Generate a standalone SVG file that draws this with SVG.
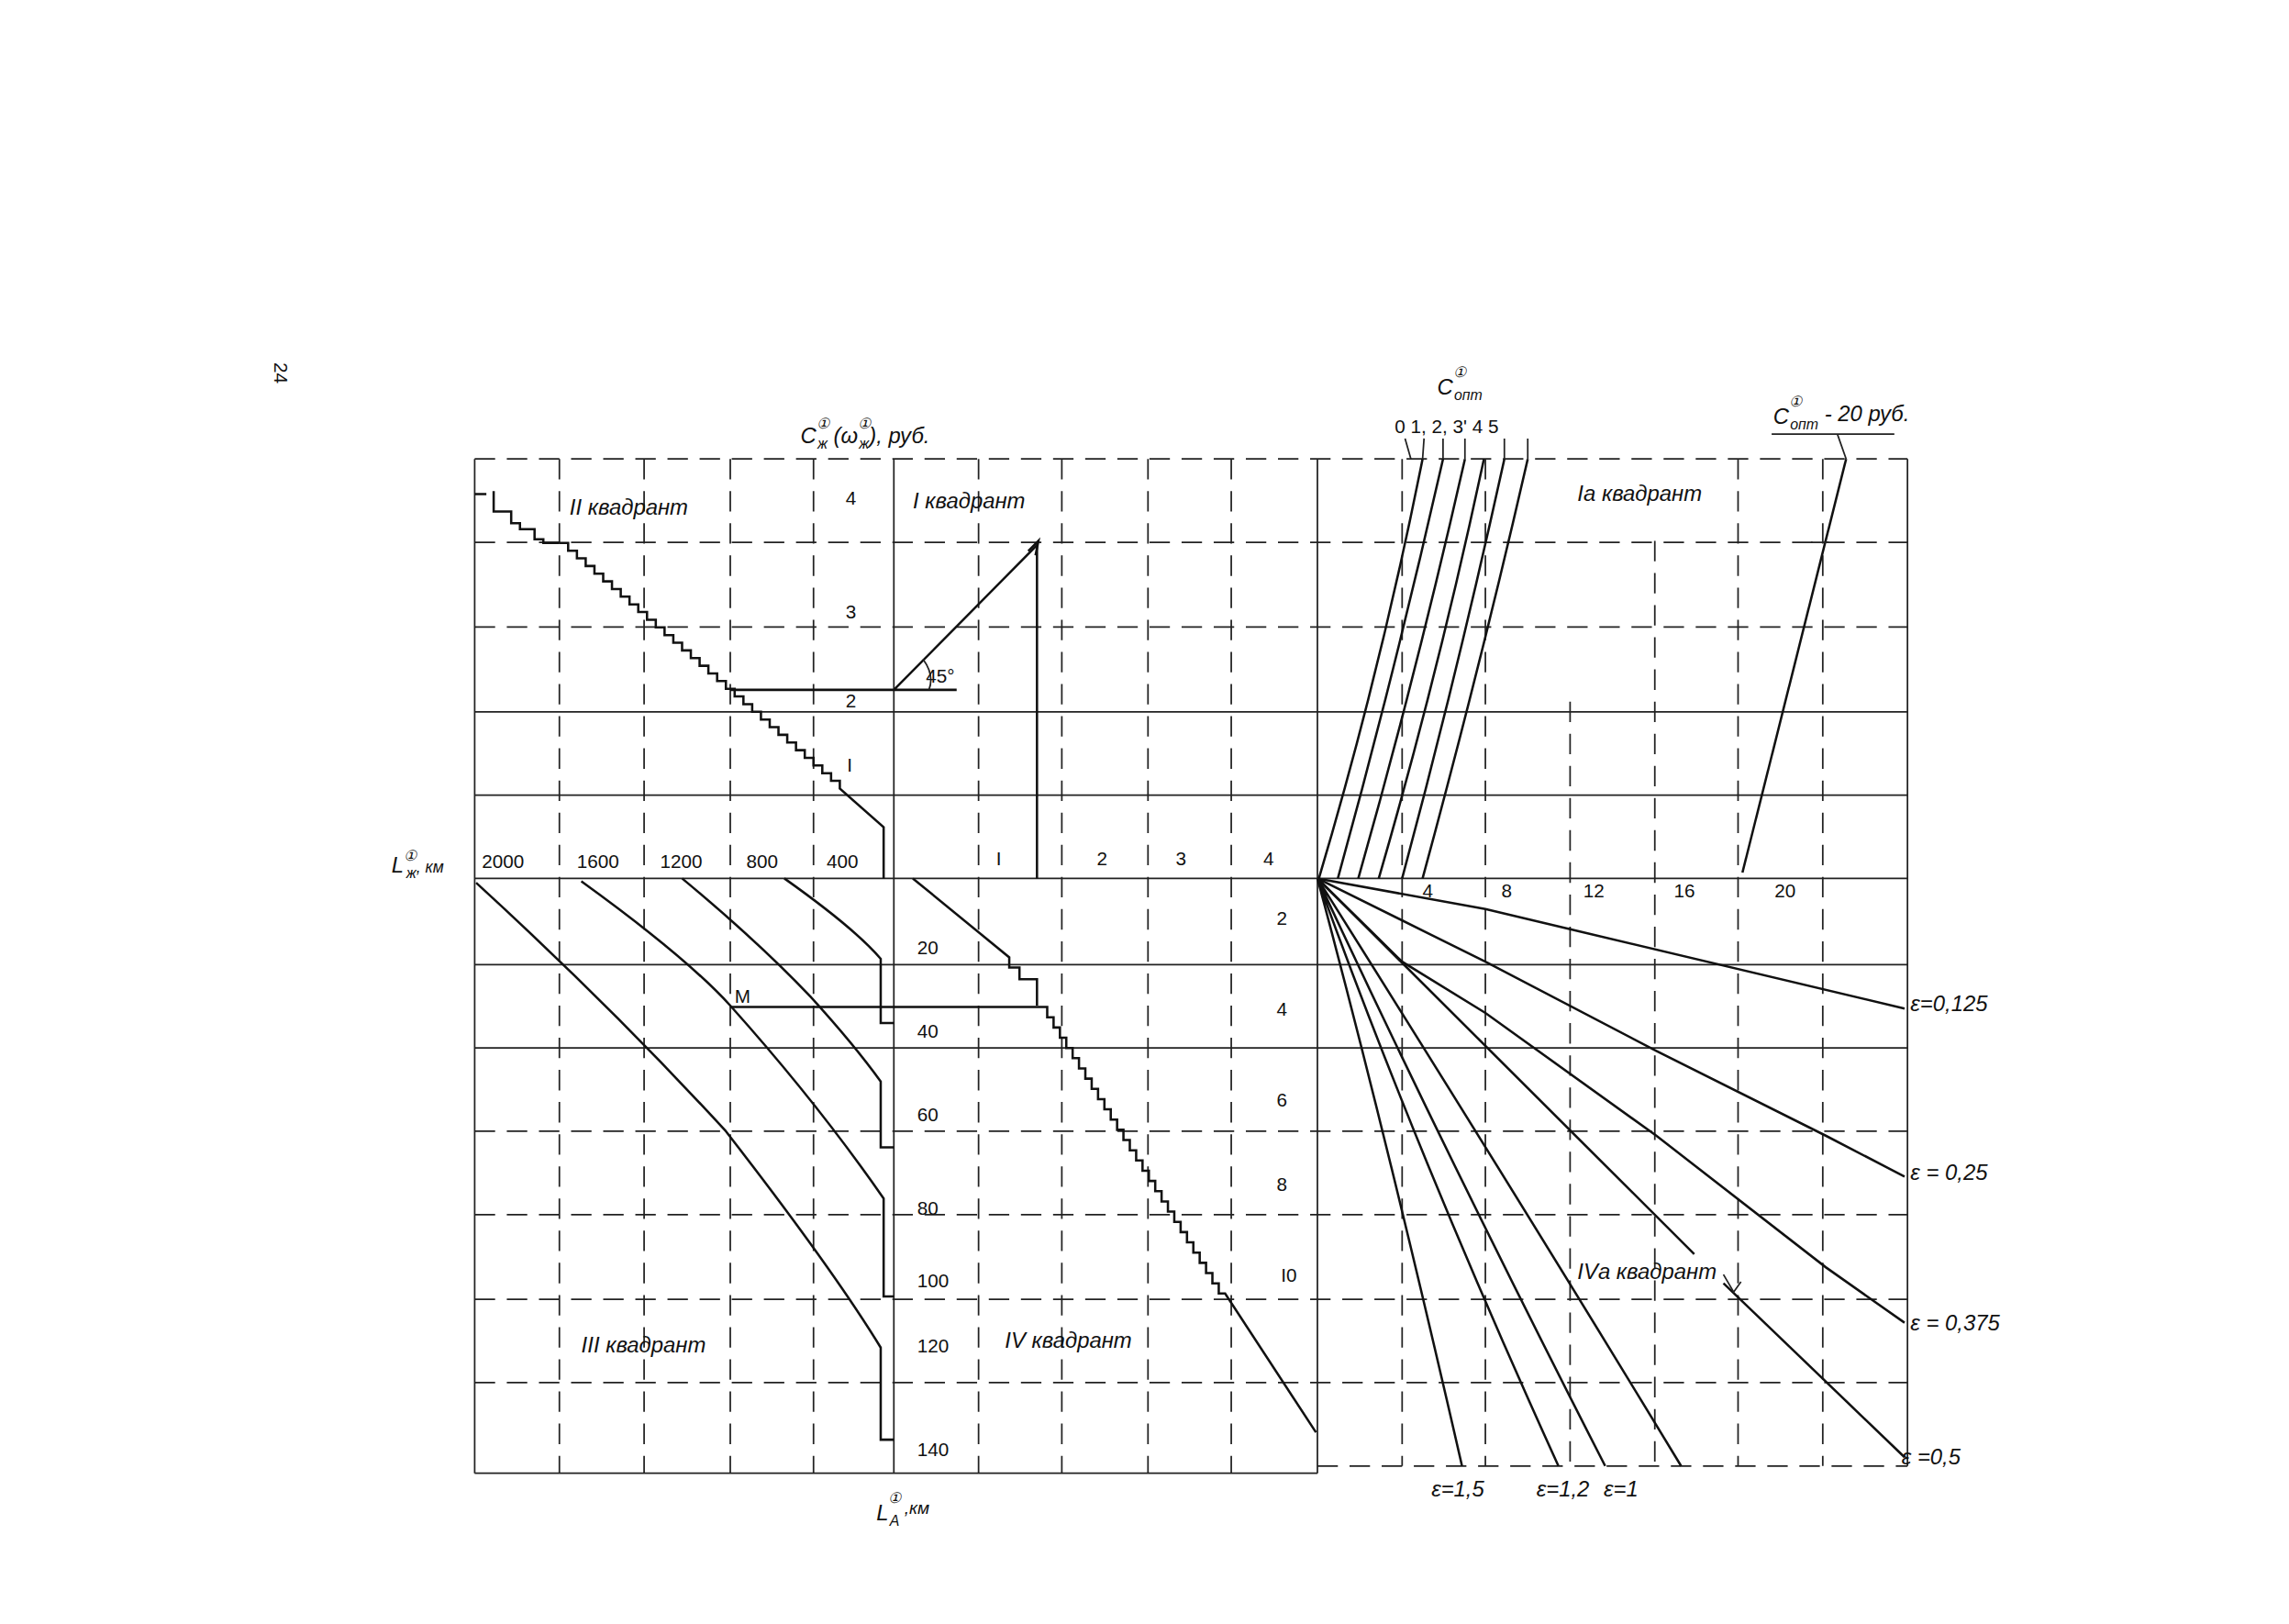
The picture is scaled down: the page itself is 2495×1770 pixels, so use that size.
<svg xmlns="http://www.w3.org/2000/svg" width="2495" height="1770" viewBox="0 0 2495 1770">
<style>
.g{stroke:#222;stroke-width:1.1;fill:none}
.d{stroke:#222;stroke-width:1.1;fill:none;stroke-dasharray:14 8}
.c{stroke:#111;stroke-width:1.6;fill:none}
.t{font-family:"Liberation Sans",Arial,sans-serif;font-size:13px;fill:#111}
.i{font-family:"Liberation Sans",Arial,sans-serif;font-style:italic;font-size:15px;fill:#111}
.s{font-size:10px}
</style>
<rect width="2495" height="1770" fill="#fff"/>
<g transform="scale(1.592,1.593)">
<g id="grid">
<path class="g" d="M325 314V1008M612 314V1008M902 314V1008M1306 314V1003M325 1008H902"/>
<path class="d" d="M383 314V1008M441 314V1008M500 314V1008M557 314V1008M670 314V1008M727 314V1008M786 314V1008M843 314V1008M960 314V1003M1017 314V1003M1075 480V1003M1133 370V1003M1190 314V1003M1248 314V1003M902 1003H1306"/>
<path class="d" d="M325 314H1306M325 371H1306M325 429H1306"/>
<path class="g" d="M325 487H1306M325 544H1306M325 601H1306M325 660H1306M325 717H1306"/>
<path class="d" d="M325 774H1306M325 831H1306M325 889H1306M325 946H1306"/>
</g>
<g id="connectors">
<path class="c" d="M325 338H333M338 336V350H350V358H356V362H366V369H372V371.5H383"/>
<path class="c" d="M383 371.5h6v5.25h6v5.25h6v5.25h6v5.25h6v5.25h6v5.25h6v5.25h6v5.25h6v5.25h6v5.25h6v5.25h6v5.25h6v5.25h6v5.25h6v5.25h6v5.25h6v5.25h6v5.25h6v5.25h6v5.25h6v5.25h6v5.25h6v5.25h6v5.25h6v5.25h6v5.25h6v5.25h6v5.25h6v5.25h6v5.25h6v5.25h6v5.25L605 566V601"/>
<path class="c" d="M500 472H655M612 472L710 373V601"/>
<path class="c" d="M704 377L711 370L709 380"/>
<path class="g" d="M632 451Q640 462 636 472"/>
<path class="c" d="M326 604Q420 690 497 774Q570 868 603 922V985H612"/>
<path class="c" d="M398 603Q470 655 500 688Q560 755 605 820V887H612"/>
<path class="c" d="M467 601Q520 645 555 682Q585 715 603 740V785H612"/>
<path class="c" d="M537 601Q585 635 603 656V700H612"/>
<path class="c" d="M625 601L691 655V662H698V670H710V688"/>
<path class="c" d="M500 689H717v7h4.35v7h4.35v7h4.35v7h4.35v7h4.35v7h4.35v7h4.35v7h4.35v7h4.35v7h4.35v7h4.35v7h4.35v7h4.35v7h4.35v7h4.35v7h4.35v7h4.35v7h4.35v7h4.35v7h4.35v7h4.35v7h4.35v7h4.35v7h4.35v7h4.35v7h4.35v7h4.35v7h4.35L901 980"/>
<path class="c" d="M903 601Q945 460 974 314M916 601Q955 460 988 314M930 601Q970 460 1003 314M944 601Q985 460 1016 314M960 601Q998 460 1030 314M974 601Q1015 450 1046 314"/>
<path class="g" d="M962 300L966 314M975 300L974 314M988 300L988 314M1003 300L1003 314M1030 300L1030 314M1046 300L1046 314"/>
<path class="c" d="M1193 597Q1225 470 1264 314"/>
<path class="g" d="M1213 297H1297M1258 297L1264 314M1240 371H1252"/>
<path class="c" d="M902 601L1017 622L1304 690"/>
<path class="c" d="M902 601L1017 658L1134 719L1250 777L1304 805"/>
<path class="c" d="M902 601L960 658L1017 693L1134 777L1250 867L1304 905"/>
<path class="c" d="M902 601L1160 858M1180 878L1304 997"/>
<path class="g" d="M1180 872L1187 884L1192 877"/>
<path class="c" d="M902 601Q950 780 1001 1003M902 601Q970 790 1067 1003M902 601Q990 790 1099 1003M902 601Q1040 820 1151 1003"/>
</g>
<g id="labels">
<text class="t" transform="translate(188,248) rotate(90)" font-size="18">24</text>
<text class="i" x="548" y="303" font-size="20">C<tspan class="s" dy="-10">①</tspan><tspan class="s" dx="-8" dy="14">ж</tspan><tspan dy="-4"> (ω</tspan><tspan class="s" dy="-10">①</tspan><tspan class="s" dx="-8" dy="14">ж</tspan><tspan dy="-4">), руб.</tspan></text>
<text class="i" x="984" y="270" font-size="20">C<tspan class="s" dy="-12">①</tspan><tspan class="s" dx="-8" dy="16">опт</tspan></text>
<text class="t" x="955" y="296" font-size="11">0  1, 2, 3'  4  5</text>
<text class="i" x="1214" y="290" font-size="20">C<tspan class="s" dy="-12">①</tspan><tspan class="s" dx="-8" dy="16">опт</tspan><tspan dy="-6"> - 20 руб.</tspan></text>
<text class="i" x="390" y="352" font-size="13">II квадрант</text>
<text class="i" x="625" y="348" font-size="13">I квадрант</text>
<text class="i" x="1080" y="343" font-size="13">Iа квадрант</text>
<text class="i" x="398" y="925" font-size="13">III квадрант</text>
<text class="i" x="688" y="922" font-size="13">IV квадрант</text>
<text class="i" x="1080" y="875" font-size="14">IVа  квадрант</text>
<text class="t" x="634" y="467" font-size="10">45°</text>
<text class="t" x="579" y="345">4</text>
<text class="t" x="579" y="423">3</text>
<text class="t" x="579" y="484">2</text>
<text class="t" x="580" y="528">I</text>
<text class="i" x="268" y="597" font-size="14">L<tspan class="s" dy="-8">①</tspan><tspan class="s" dx="-7" dy="12">ж</tspan><tspan font-size="11" dy="-4">, км</tspan></text>
<text class="t" x="330" y="594" font-size="12">2000</text>
<text class="t" x="395" y="594" font-size="12">1600</text>
<text class="t" x="452" y="594" font-size="12">1200</text>
<text class="t" x="511" y="594" font-size="12">800</text>
<text class="t" x="566" y="594" font-size="12">400</text>
<text class="t" x="682" y="592">I</text>
<text class="t" x="751" y="592">2</text>
<text class="t" x="805" y="592">3</text>
<text class="t" x="865" y="592">4</text>
<text class="t" x="974" y="614">4</text>
<text class="t" x="1028" y="614">8</text>
<text class="t" x="1084" y="614">12</text>
<text class="t" x="1146" y="614">16</text>
<text class="t" x="1215" y="614">20</text>
<text class="t" x="628" y="653" font-size="12">20</text>
<text class="t" x="628" y="710" font-size="12">40</text>
<text class="t" x="628" y="767" font-size="12">60</text>
<text class="t" x="628" y="831" font-size="12">80</text>
<text class="t" x="628" y="881" font-size="12">100</text>
<text class="t" x="628" y="925" font-size="12">120</text>
<text class="t" x="628" y="996" font-size="12">140</text>
<text class="t" x="874" y="633" font-size="12">2</text>
<text class="t" x="874" y="695" font-size="12">4</text>
<text class="t" x="874" y="757" font-size="12">6</text>
<text class="t" x="874" y="815" font-size="12">8</text>
<text class="t" x="877" y="877" font-size="12">I0</text>
<text class="t" x="503" y="686" font-size="11">M</text>
<text class="i" x="1308" y="692" font-size="12">ε=0,125</text>
<text class="i" x="1308" y="807" font-size="12">ε = 0,25</text>
<text class="i" x="1308" y="910" font-size="12">ε = 0,375</text>
<text class="i" x="1302" y="1002" font-size="12">ε =0,5</text>
<text class="i" x="980" y="1024" font-size="12">ε=1,5</text>
<text class="i" x="1052" y="1024" font-size="12">ε=1,2</text>
<text class="i" x="1098" y="1024" font-size="12">ε=1</text>
<text class="i" x="600" y="1040" font-size="20">L<tspan class="s" dy="-12">①</tspan><tspan class="s" dx="-8" dy="16">А</tspan><tspan font-size="12" dy="-8"> ,км</tspan></text>
</g>
</g>
</svg>
